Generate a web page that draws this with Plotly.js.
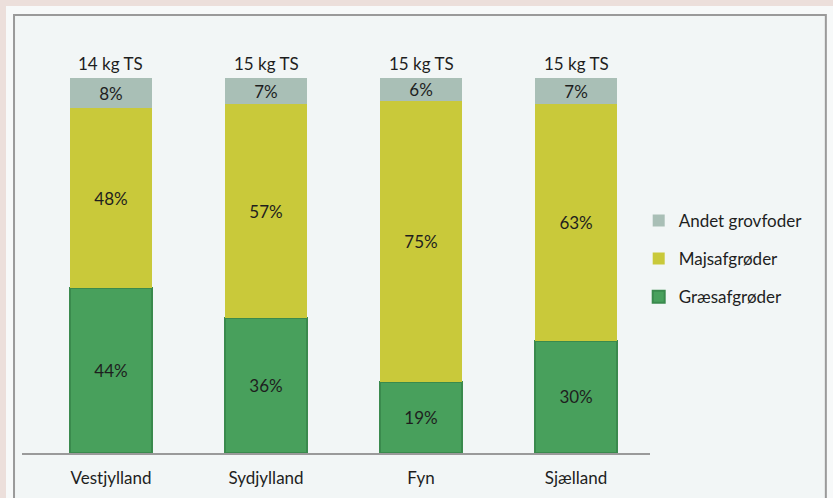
<!DOCTYPE html>
<html><head><meta charset="utf-8">
<script src="https://cdn.plot.ly/plotly-3.0.1.min.js"></script>
<style>html,body{margin:0;padding:0;background:#ecdfdb;}#c{width:833px;height:498px;}</style>
</head><body><div id="c"></div>
<script>
const regions = ["Vestjylland", "Sydjylland", "Fyn", "Sjælland"];
const totals = ["14 kg TS", "15 kg TS", "15 kg TS", "15 kg TS"];
const graes = [44, 36, 19, 30];
const majs = [48, 57, 75, 63];
const andet = [8, 7, 6, 7];
const names = ["Græsafgrøder", "Majsafgrøder", "Andet grovfoder"];
const colors = ["#48a05c", "#c9c93a", "#a9bfb6"];
const lines = ["#3a8a4d", "#c9c93a", "#a9bfb6"];
const ranks = [3, 2, 1];

const xs = regions.map((_, i) => i);
const font = "Lato, Open Sans, sans-serif";
const series = [graes, majs, andet];
const traces = series.map((vals, k) => ({
  type: "bar", x: xs, y: vals, name: names[k], legendgroup: "g" + k, legendrank: ranks[k],
  width: 0.53, constraintext: "none",
  marker: {color: colors[k], line: {color: lines[k], width: k === 0 ? 2 : 0}},
  texttemplate: "%{y}%", textposition: "inside", insidetextanchor: "middle",
  textangle: 0, textfont: {family: font, size: 17, color: "#1e1e1e"},
  hoverinfo: "skip"
}));

const layout = {
  width: 833, height: 498,
  paper_bgcolor: "#ecdfdb", plot_bgcolor: "rgba(0,0,0,0)",
  margin: {l: 22, r: 183, t: 78, b: 45},
  barmode: "stack",
  font: {family: font, size: 17, color: "#1e1e1e"},
  xaxis: {range: [-0.574, 3.477], tickvals: xs, ticktext: regions, showgrid: false,
    zeroline: false, showline: true, linecolor: "#9a9a9a", linewidth: 2, ticks: "",
    ticklabelstandoff: 9, tickfont: {family: font, size: 17, color: "#1e1e1e"}, fixedrange: true},
  yaxis: {range: [0, 100], visible: false, fixedrange: true},
  showlegend: true,
  legend: {x: 0.982, y: 0.667, xanchor: "left", yanchor: "top", traceorder: "grouped",
    tracegroupgap: 13, bgcolor: "rgba(0,0,0,0)", font: {family: font, size: 17, color: "#1e1e1e"},
    itemwidth: 30},
  annotations: xs.map((x, i) => ({x: x, y: 100, xref: "x", yref: "y", text: totals[i],
    showarrow: false, yanchor: "bottom", yshift: 2, font: {family: font, size: 17, color: "#1e1e1e"}})),
  shapes: [
    {type: "rect", xref: "paper", yref: "paper", x0: -0.0255, x1: 1.3, y0: -0.14, y1: 1.192,
      fillcolor: "#f7f9f9", line: {width: 0}, layer: "below"},
    {type: "rect", xref: "paper", yref: "paper", x0: -0.0127, x1: 1.28, y0: -0.14, y1: 1.168,
      fillcolor: "#f2f6f6", line: {color: "#9a9a9a", width: 2}, layer: "below"}]
};
Plotly.newPlot("c", traces, layout, {staticPlot: true, displayModeBar: false});
</script></body></html>
